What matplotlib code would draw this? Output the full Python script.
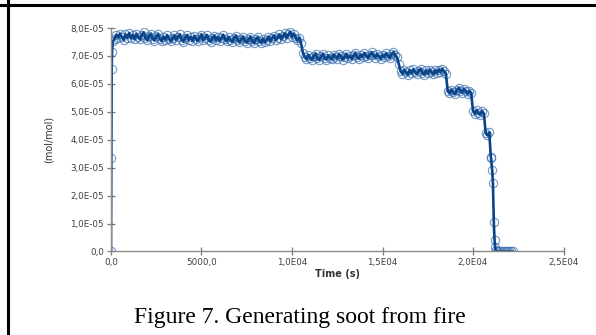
import numpy as np
import matplotlib
matplotlib.use("Agg")
import matplotlib.pyplot as plt
from matplotlib.lines import Line2D

# soot concentration, values in 1e-5 mol/mol
t_start = [0, 20, 40, 60, 100]
v_start = [0.0, 3.35, 6.55, 7.15, 7.52]

# first plateau, every 100 s from 200 to 10400
t_lvl1 = np.arange(200, 10500, 100)
v_lvl1 = [7.62, 7.76, 7.66, 7.80, 7.68, 7.58, 7.77, 7.65, 7.82, 7.63,
          7.75, 7.60, 7.79, 7.68, 7.59, 7.76, 7.84, 7.66, 7.56, 7.72,
          7.79, 7.62, 7.55, 7.70, 7.78, 7.61, 7.53, 7.69, 7.58, 7.75,
          7.62, 7.52, 7.63, 7.74, 7.57, 7.69, 7.77, 7.58, 7.51, 7.66,
          7.75, 7.57, 7.68, 7.54, 7.72, 7.61, 7.53, 7.68, 7.76, 7.56,
          7.64, 7.75, 7.57, 7.51, 7.63, 7.73, 7.56, 7.68, 7.54, 7.65,
          7.76, 7.59, 7.53, 7.68, 7.57, 7.50, 7.64, 7.73, 7.56, 7.49,
          7.60, 7.69, 7.53, 7.47, 7.59, 7.69, 7.52, 7.46, 7.60, 7.67,
          7.52, 7.47, 7.62, 7.50, 7.57, 7.69, 7.53, 7.64, 7.73, 7.58,
          7.65, 7.77, 7.60, 7.72, 7.81, 7.64, 7.77, 7.86, 7.68, 7.80,
          7.66, 7.56, 7.64]

t_step1 = [10500, 10600]
v_step1 = [7.45, 7.12]

t_lvl2 = np.arange(10700, 15900, 100)
v_lvl2 = [6.96, 6.88, 7.04, 6.93, 6.86, 7.00, 7.08, 6.91, 6.85, 6.98,
          7.07, 6.92, 6.87, 7.02, 6.94, 6.88, 7.05, 6.97, 6.90, 7.06,
          6.99, 6.87, 6.95, 7.08, 6.92, 7.00, 6.89, 7.02, 7.10, 6.95,
          6.90, 7.04, 6.97, 7.10, 7.01, 6.92, 7.05, 7.13, 7.02, 6.94,
          7.07, 6.98, 6.90, 7.03, 6.96, 7.09, 7.01, 6.92, 7.07, 7.13,
          7.02, 6.95]

t_lvl3 = np.arange(15900, 18600, 100)
v_lvl3 = [6.70,
          6.46, 6.36, 6.50, 6.41, 6.33, 6.48, 6.39, 6.52, 6.43, 6.35,
          6.47, 6.53, 6.40, 6.33, 6.48, 6.38, 6.50, 6.42, 6.34, 6.48,
          6.39, 6.51, 6.42, 6.53, 6.45, 6.37]

t_lvl4 = np.arange(18600, 20000, 100)
v_lvl4 = [5.76, 5.66, 5.79, 5.70, 5.63, 5.78, 5.85,
          5.75, 5.68, 5.82, 5.74, 5.65, 5.74, 5.66]

t_lvl5 = np.arange(20000, 20700, 100)
v_lvl5 = [5.03, 4.93, 5.06, 4.95, 4.90, 5.03, 4.94]

t_drop = [20700, 20800, 20900, 20980, 21000, 21060, 21100, 21150, 21190,
          21220, 21260]
v_drop = [4.24, 4.16, 4.26, 3.40, 3.34, 2.90, 2.46, 1.04, 0.40, 0.15, 0.05]

t_tail = np.arange(21300, 22300, 100)
v_tail = [0.0, 0.0, 0.0, 0.0, 0.0, 0.0, 0.0, 0.0, 0.0, 0.0]

x_ticks = [0, 5000, 10000, 15000, 20000, 25000]
x_labels = ['0,0', '5000,0', '1,0E04', '1,5E04', '2,0E04', '2,5E04']
y_ticks = [0, 1e-5, 2e-5, 3e-5, 4e-5, 5e-5, 6e-5, 7e-5, 8e-5]
y_labels = ['0,0', '1,0E-05', '2,0E-05', '3,0E-05', '4,0E-05',
            '5,0E-05', '6,0E-05', '7,0E-05', '8,0E-05']

t = np.concatenate([t_start, t_lvl1, t_step1, t_lvl2, t_lvl3, t_lvl4,
                    t_lvl5, t_drop, t_tail])
v = np.concatenate([v_start, v_lvl1, v_step1, v_lvl2, v_lvl3, v_lvl4,
                    v_lvl5, v_drop, v_tail]) * 1e-5

fig = plt.figure(figsize=(5.96, 3.35), dpi=100)
ax = fig.add_axes([0.1862, 0.2493, 0.7593, 0.6671])

# open circles first, then the dark trace on top
ax.plot(t, v, ls='none', marker='o', ms=6, mfc='none', mec='#3a6fb0',
        mew=0.8, alpha=0.7)
ax.plot(t, v, color='#0a4488', lw=1.9, solid_joinstyle='round')

ax.set_xlim(0, 25000)
ax.set_ylim(0, 8e-5)
ax.set_xticks(x_ticks)
ax.set_xticklabels(x_labels)
ax.set_yticks(y_ticks)
ax.set_yticklabels(y_labels)

for s in ['top', 'right']:
    ax.spines[s].set_visible(False)
for s in ['left', 'bottom']:
    ax.spines[s].set_color('#8c8c8c')
    ax.spines[s].set_linewidth(1.0)
ax.tick_params(direction='inout', length=6, width=0.9, color='#7a7a7a',
               labelsize=6.3, labelcolor='#404040', pad=2)

ax.set_xlabel('Time (s)', fontsize=7, color='#333333', labelpad=1,
              fontweight='bold')
ax.set_ylabel('(mol/mol)', fontsize=7, color='#333333', labelpad=12)

# table cell borders of the page
fig.add_artist(Line2D([0, 1], [1 - 5 / 335, 1 - 5 / 335], color='black',
                      lw=2.2, transform=fig.transFigure))
fig.add_artist(Line2D([8 / 596, 8 / 596], [0, 1], color='black',
                      lw=2.2, transform=fig.transFigure))

fig.text(300 / 596, 1 - 318 / 335, 'Figure 7. Generating soot from fire',
         ha='center', va='center', fontsize=17, family='Liberation Serif')

fig.savefig('out.png', dpi=100)
